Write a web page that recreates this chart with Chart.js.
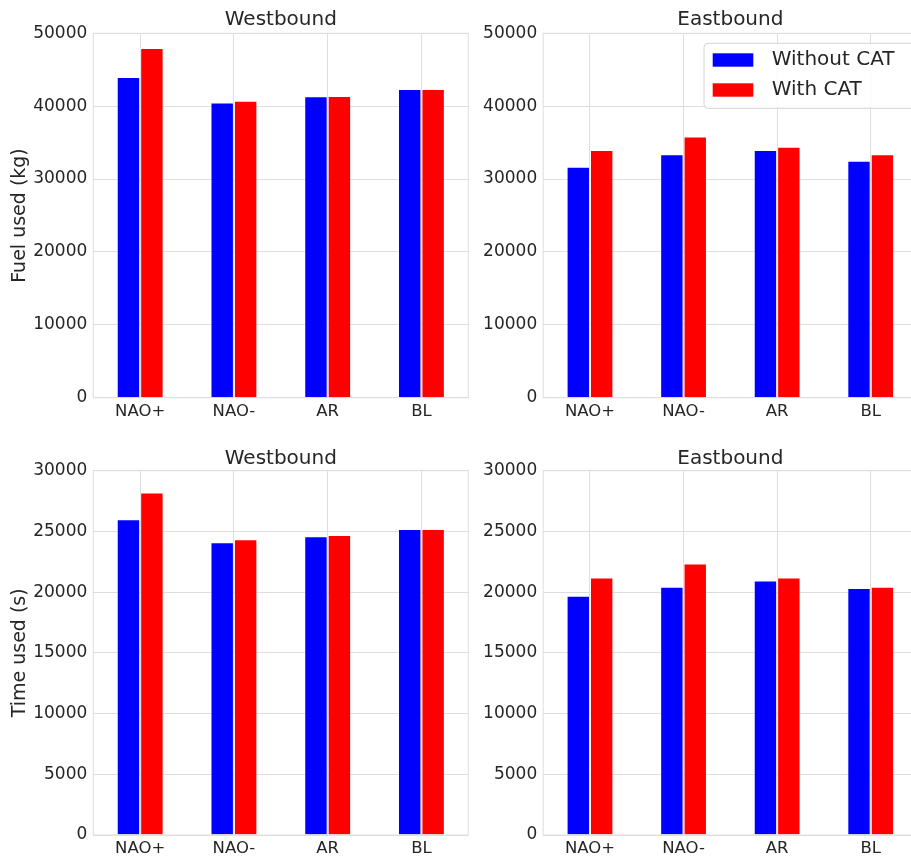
<!DOCTYPE html>
<html>
<head>
<meta charset="utf-8">
<script src="https://cdn.jsdelivr.net/npm/chart.js@4.4.1/dist/chart.umd.min.js"></script>
<style>
  html, body { margin: 0; padding: 0; background: #fff; overflow: hidden; }
  .panel { position: absolute; }
</style>
</head>
<body>
<div class="panel" style="left:0;top:0;width:470px;height:428px"><canvas id="fuelWest"></canvas></div>
<div class="panel" style="left:470px;top:0;width:450px;height:428px"><canvas id="fuelEast"></canvas></div>
<div class="panel" style="left:0;top:428px;width:470px;height:429px"><canvas id="timeWest"></canvas></div>
<div class="panel" style="left:470px;top:428px;width:450px;height:429px"><canvas id="timeEast"></canvas></div>
<script>
// regimes along the x axis
const categories = ['NAO+', 'NAO-', 'AR', 'BL'];
const seriesLabels = ['Without CAT', 'With CAT'];
const seriesColors = ['#0000ff', '#ff0000'];

// fuel used (kg)
const fuelWestWithout = [44000, 40500, 41350, 42350];
const fuelWestWith    = [48000, 40750, 41400, 42350];
const fuelEastWithout = [31700, 33400, 34000, 32500];
const fuelEastWith    = [34000, 35850, 34450, 33400];

// time used (s)
const timeWestWithout = [26000, 24100, 24600, 25200];
const timeWestWith    = [28200, 24350, 24700, 25200];
const timeEastWithout = [19700, 20450, 20950, 20350];
const timeEastWith    = [21200, 22350, 21200, 20450];

const fuelTicks = { max: 50000, step: 10000 };
const timeTicks = { max: 30000, step: 5000 };

const TEXT = '#262626';
const GRID = '#dedede';

Chart.defaults.font.family = "'DejaVu Sans', sans-serif";
Chart.defaults.color = TEXT;
Chart.defaults.animation = false;

// light frame round the plot area, like the axes spines
const framePlugin = {
    id: 'frame',
    afterDatasetsDraw(chart) {
        const { ctx, chartArea: a } = chart;
        ctx.save();
        ctx.strokeStyle = GRID;
        ctx.lineWidth = 1;
        ctx.strokeRect(a.left, a.top, a.right - a.left, a.bottom - a.top);
        ctx.restore();
    }
};

// boxed legend drawn inside the plot
const boxLegend = {
    id: 'boxLegend',
    afterDraw(chart, args, opts) {
        if (!opts.show) return;
        const ctx = chart.ctx;
        ctx.save();
        ctx.fillStyle = 'rgba(255,255,255,0.85)';
        ctx.strokeStyle = '#d4d4d4';
        ctx.lineWidth = 1;
        ctx.beginPath();
        ctx.roundRect(opts.x, opts.y, opts.w, opts.h, 4);
        ctx.fill();
        ctx.stroke();
        ctx.font = "20px 'DejaVu Sans'";
        ctx.textBaseline = 'middle';
        chart.data.datasets.forEach((ds, i) => {
            const y = opts.y + 16.7 + i * 30;
            ctx.fillStyle = ds.backgroundColor;
            ctx.fillRect(opts.x + 8.7, y - 6.7, 40.6, 13.4);
            ctx.fillStyle = TEXT;
            ctx.fillText(ds.label, opts.x + 67.7, y);
        });
        ctx.restore();
    }
};

function barPanel(id, p) {
    return new Chart(document.getElementById(id), {
        type: 'bar',
        data: {
            labels: categories,
            datasets: [
                { label: seriesLabels[0], data: p.without, backgroundColor: seriesColors[0] },
                { label: seriesLabels[1], data: p.withCat, backgroundColor: seriesColors[1] }
            ]
        },
        options: {
            responsive: true, maintainAspectRatio: false,
            categoryPercentage: 0.5, barPercentage: 1.0,
            borderWidth: 1, borderColor: 'rgba(255,255,255,0.3)',
            layout: { padding: { left: 0, right: p.padRight, top: 0, bottom: 0 } },
            plugins: {
                legend: { display: false },
                tooltip: { enabled: false },
                title: {
                    display: true, text: p.title, fullSize: false, color: TEXT,
                    font: { size: 20, weight: 'normal' },
                    padding: { top: p.titleTop, bottom: p.titleBottom }
                },
                boxLegend: p.legend || { show: false }
            },
            scales: {
                x: {
                    grid: { color: GRID, offset: false, drawTicks: false },
                    border: { display: false },
                    ticks: { color: TEXT, font: { size: 16.5 }, padding: 4 },
                    afterFit: s => { s.height = p.xHeight; }
                },
                y: {
                    min: 0, max: p.ticks.max,
                    grid: { color: GRID, drawTicks: false },
                    border: { display: false },
                    ticks: {
                        stepSize: p.ticks.step, color: TEXT, font: { size: 17 }, padding: 6,
                        callback: v => String(v)
                    },
                    title: {
                        display: !!p.yLabel, text: p.yLabel, color: TEXT,
                        font: { size: 19 }, padding: { top: 8.6, bottom: 0 }
                    },
                    afterFit: s => { s.width = p.yWidth; }
                }
            }
        },
        plugins: [framePlugin, boxLegend]
    });
}

barPanel('fuelWest', {
    title: 'Westbound', without: fuelWestWithout, withCat: fuelWestWith, ticks: fuelTicks,
    yLabel: 'Fuel used (kg)', yWidth: 93.3, padRight: 1.7, titleTop: 8, titleBottom: 1.3, xHeight: 30.3
});
barPanel('fuelEast', {
    title: 'Eastbound', without: fuelEastWithout, withCat: fuelEastWith, ticks: fuelTicks,
    yLabel: '', yWidth: 73.2, padRight: 2.5, titleTop: 8, titleBottom: 1.3, xHeight: 30.3,
    legend: { show: true, x: 234, y: 43.3, w: 260, h: 65 }
});
barPanel('timeWest', {
    title: 'Westbound', without: timeWestWithout, withCat: timeWestWith, ticks: timeTicks,
    yLabel: 'Time used (s)', yWidth: 93.3, padRight: 1.7, titleTop: 18.5, titleBottom: 0.2, xHeight: 22
});
barPanel('timeEast', {
    title: 'Eastbound', without: timeEastWithout, withCat: timeEastWith, ticks: timeTicks,
    yLabel: '', yWidth: 73.2, padRight: 2.5, titleTop: 18.5, titleBottom: 0.2, xHeight: 22
});
</script>
</body>
</html>
